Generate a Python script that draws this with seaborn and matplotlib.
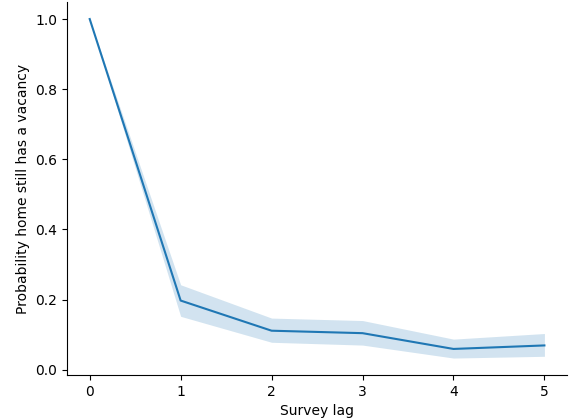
import pandas as pd
import matplotlib
matplotlib.use("Agg")
import matplotlib.pyplot as plt
import seaborn as sns

# Survey lag vs probability of a home still having a vacancy
lags = [0, 1, 2, 3, 4, 5]
prob_vacant = [1.0, 0.197, 0.111, 0.104, 0.059, 0.069]
ci_low = [1.0, 0.152, 0.078, 0.070, 0.033, 0.038]
ci_high = [1.0, 0.242, 0.147, 0.140, 0.087, 0.103]

df = pd.DataFrame({"lag": lags, "prob": prob_vacant, "lo": ci_low, "hi": ci_high})

fig, ax = plt.subplots(figsize=(5.7, 4.19), dpi=100)

sns.lineplot(data=df, x="lag", y="prob", color="#1f77b4", linewidth=1.5, ax=ax)
ax.fill_between(df["lag"], df["lo"], df["hi"], color="#1f77b4", alpha=0.2, linewidth=0)

ax.set_xlabel("Survey lag")
ax.set_ylabel("Probability home still has a vacancy")
sns.despine()

fig.subplots_adjust(left=0.1175, right=0.995, bottom=0.105, top=0.995)
fig.savefig("out.png", dpi=100)
